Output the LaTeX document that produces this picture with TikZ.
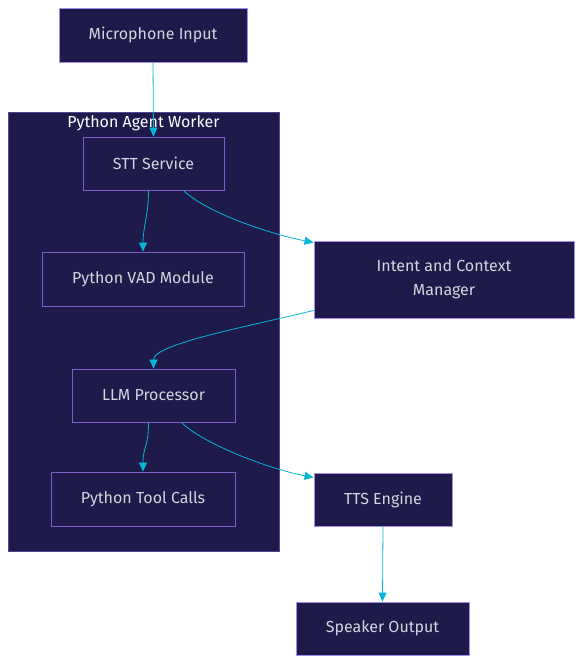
\documentclass[tikz,border=0pt]{standalone}
\usepackage{fontspec}
\setmainfont{Fira Sans}
\usetikzlibrary{arrows.meta}
\definecolor{nodefill}{HTML}{1E1B4B}
\definecolor{outerborder}{HTML}{A48BF0}
\definecolor{innerborder}{HTML}{7C5FC8}
\definecolor{txt}{HTML}{D4D4DC}
\definecolor{edge}{HTML}{06B6D4}
\begin{document}
\begin{tikzpicture}[x=1pt,y=-1pt,
  every node/.style={font=\fontsize{16}{24}\selectfont},
  box/.style={draw=outerborder,fill=nodefill,text=txt,line width=0.9pt,inner sep=0pt,align=center},
  inbox/.style={box,draw=innerborder},
  conn/.style={draw=edge,line width=0.8pt,-{Triangle[length=9pt,width=8pt]}}]
\useasboundingbox (0,0) rectangle (583,664);
% subgraph
\node[draw=innerborder!60!nodefill,fill=nodefill,line width=0.6pt,minimum width=271pt,minimum height=439pt,inner sep=0pt] (sg) at (143.5,331.5) {};
\node[text=white,font=\fontsize{16}{19}\selectfont] (sgt) at (143.5,123) {Python Agent Worker};
% nodes
\node[box,minimum width=188pt,minimum height=54pt] (mic) at (153,35) {Microphone Input};
\node[inbox,minimum width=141pt,minimum height=53pt] (stt) at (153.5,163.5) {STT Service};
\node[inbox,minimum width=202pt,minimum height=54pt] (vad) at (143,279) {Python VAD Module};
\node[box,minimum width=260pt,minimum height=77pt] (ictx) at (444,279.5) {Intent and Context\\Manager};
\node[inbox,minimum width=163pt,minimum height=53pt] (llm) at (153.5,395.5) {LLM Processor};
\node[inbox,minimum width=184pt,minimum height=54pt] (tool) at (143,499) {Python Tool Calls};
\node[box,minimum width=138pt,minimum height=53pt] (tts) at (383,499.5) {TTS Engine};
\node[box,minimum width=173pt,minimum height=53pt] (spk) at (382.5,628.5) {Speaker Output};
% edges
\draw[conn] (mic.south) -- (stt.north);
\draw[conn] ([xshift=-5pt]stt.south) .. controls +(0,25) and +(0,-25) .. (vad.north);
\draw[conn] ([xshift=30pt]stt.south) .. controls +(20,20) and +(-50,-10) .. ([yshift=-2pt]ictx.north west);
\draw[conn] ([yshift=8pt]ictx.south west) .. controls +(-60,15) and +(0,-25) .. (llm.north);
\draw[conn] ([xshift=-5pt]llm.south) .. controls +(0,25) and +(0,-25) .. (tool.north);
\draw[conn] ([xshift=28pt]llm.south) .. controls +(20,20) and +(-50,-10) .. ([yshift=-5pt]tts.north west);
\draw[conn] (tts.south) -- (spk.north);
\end{tikzpicture}
\end{document}
